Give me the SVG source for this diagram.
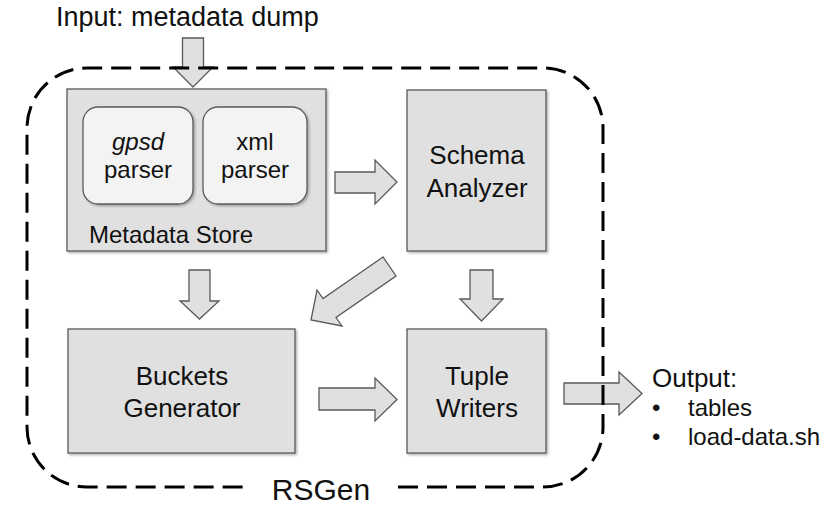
<svg xmlns="http://www.w3.org/2000/svg" width="827" height="505" viewBox="0 0 827 505">
<defs>
<filter id="sh" x="-10%" y="-10%" width="130%" height="130%">
<feDropShadow dx="1.5" dy="1.5" stdDeviation="1" flood-color="#000" flood-opacity="0.3"/>
</filter>
<style>
.box{fill:#e0e0e0;stroke:#595959;stroke-width:1.3;filter:url(#sh)}
.inner{fill:#f3f3f3;stroke:#595959;stroke-width:1.3;filter:url(#sh)}
.arr{fill:#e0e0e0;stroke:#595959;stroke-width:1.3}
.t{font-family:"Liberation Sans",Arial,sans-serif;fill:#111}
.border{fill:none;stroke:#000;stroke-width:3;stroke-dasharray:20 9}
</style>
</defs>
<rect width="827" height="505" fill="#fff"/>
<text class="t" x="56" y="26" font-size="27">Input: metadata dump</text>
<g id="metadata-store">
<rect class="box" x="67" y="89" width="259" height="162"/>
<text class="t" x="89" y="243" font-size="24">Metadata Store</text>
</g>
<g id="gpsd-parser">
<rect class="inner" x="83" y="107" width="110" height="97" rx="15"/>
<text class="t" x="138" y="150" font-size="24" text-anchor="middle" font-style="italic">gpsd</text>
<text class="t" x="138" y="178" font-size="24" text-anchor="middle">parser</text>
</g>
<g id="xml-parser">
<rect class="inner" x="203" y="107" width="104" height="97" rx="15"/>
<text class="t" x="255" y="150" font-size="24" text-anchor="middle">xml</text>
<text class="t" x="255" y="178" font-size="24" text-anchor="middle">parser</text>
</g>
<g id="schema-analyzer">
<rect class="box" x="407" y="90" width="139" height="161"/>
<text class="t" x="477" y="164" font-size="26" text-anchor="middle">Schema</text>
<text class="t" x="477" y="197" font-size="26" text-anchor="middle">Analyzer</text>
</g>
<g id="buckets-generator">
<rect class="box" x="68" y="329" width="227" height="124"/>
<text class="t" x="182" y="385" font-size="26" text-anchor="middle">Buckets</text>
<text class="t" x="182" y="417" font-size="26" text-anchor="middle">Generator</text>
</g>
<g id="tuple-writers">
<rect class="box" x="407" y="329" width="139" height="124"/>
<text class="t" x="477" y="385" font-size="26" text-anchor="middle">Tuple</text>
<text class="t" x="477" y="417" font-size="26" text-anchor="middle">Writers</text>
</g>
<g id="connectors">
<polygon class="arr" points="182.5,38 203.5,38 203.5,67 213,67 193,87 173,67 182.5,67"/>
<polygon class="arr" points="335,172 375,172 375,160 397,182 375,204 375,193 335,193"/>
<polygon class="arr" points="470,270 493,270 493,299 503,299 481.5,321 460,299 470,299"/>
<polygon class="arr" points="189,270 210,270 210,301 219,301 199.5,319 180,301 189,301"/>
<polygon class="arr" points="383,257 323,298.5 317,290 311,320 342,326 336,317.5 396,276"/>
<polygon class="arr" points="319,388 375,388 375,378 397,399.5 375,421 375,410 319,410"/>
<polygon class="arr" points="564,383 619,383 619,372 642,393.5 619,415 619,404 564,404"/>
</g>
<path class="border" d="M398 487 H543 A60 60 0 0 0 603 427 V128 A60 60 0 0 0 543 68 H87 A60 60 0 0 0 27 128 V427 A60 60 0 0 0 87 487 H245"/>
<text class="t" x="321" y="500" font-size="30" text-anchor="middle">RSGen</text>
<text class="t" x="652" y="387" font-size="26">Output:</text>
<text class="t" x="652" y="416" font-size="24">•</text>
<text class="t" x="688" y="416" font-size="24">tables</text>
<text class="t" x="652" y="445" font-size="24">•</text>
<text class="t" x="688" y="445" font-size="24">load-data.sh</text>
</svg>
